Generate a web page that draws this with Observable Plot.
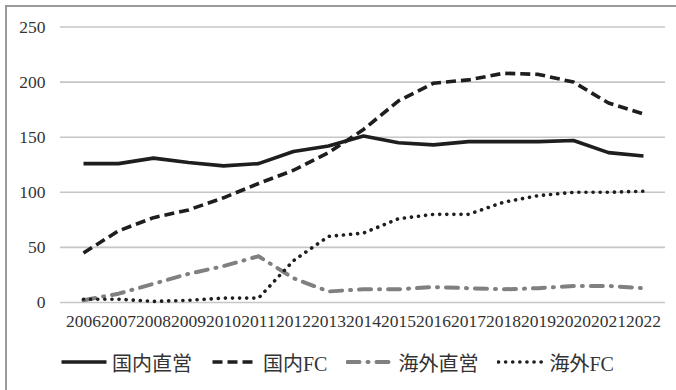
<!DOCTYPE html>
<html>
<head>
<meta charset="utf-8">
<script src="https://cdn.jsdelivr.net/npm/d3@7"></script>
<script src="https://cdn.jsdelivr.net/npm/@observablehq/plot@0.6"></script>
<style>
  html, body { margin: 0; padding: 0; background: #fff; }
  body { width: 676px; height: 390px; overflow: hidden; position: relative; }
  #frame {
    position: absolute; left: 5px; top: 5px; width: 700px; height: 420px;
    border-left: 2px solid #9a9a9a; border-top: 2px solid #9a9a9a; box-sizing: border-box;
  }
  #chart { position: absolute; left: 0; top: 0; }
  #chart svg text { font-family: "Liberation Serif", "Noto Sans CJK JP", serif !important; }
  #legend {
    position: absolute; left: 60px; top: 340px; height: 44px;
    display: flex; align-items: center; gap: 19px;
    font-family: "Liberation Serif", "Noto Sans CJK JP", serif; font-size: 20px; color: #333;
  }
  .item { display: flex; align-items: center; }
  .item span { margin-left: 4px; }
</style>
</head>
<body>
<div id="frame"></div>
<div id="chart"></div>
<div id="legend"></div>
<script>
// 店舗数の推移（2006〜2022年）
const years = [2006, 2007, 2008, 2009, 2010, 2011, 2012, 2013, 2014, 2015, 2016, 2017, 2018, 2019, 2020, 2021, 2022];
const domesticDirect = [126, 126, 131, 127, 124, 126, 137, 142, 151, 145, 143, 146, 146, 146, 147, 136, 133];
const domesticFC     = [45, 65, 77, 84, 95, 108, 120, 136, 157, 183, 199, 202, 208, 207, 200, 181, 171];
const overseasDirect = [2, 8, 17, 26, 33, 42, 22, 10, 12, 12, 14, 13, 12, 13, 15, 15, 13];
const overseasFC     = [3, 3, 1, 2, 4, 4, 38, 60, 63, 76, 80, 80, 91, 97, 100, 100, 101];
const yTicks = [0, 50, 100, 150, 200, 250];

const series = [
  {name: "国内直営", values: domesticDirect, color: "#1e1e1e", width: 3.6, dash: null, cap: "butt"},
  {name: "国内FC",   values: domesticFC,     color: "#1e1e1e", width: 3.6, dash: "10 5", cap: "butt"},
  {name: "海外直営", values: overseasDirect, color: "#808080", width: 4,   dash: "12 8 1 8", cap: "round"},
  {name: "海外FC",   values: overseasFC,     color: "#1e1e1e", width: 3.6, dash: "0.1 7", cap: "round"}
];

const marks = [
  Plot.ruleY(yTicks, {stroke: "#c6c6c6", strokeWidth: 1.6}),
  Plot.axisY(yTicks, {tickSize: 0, tickPadding: 15, fontSize: 17.5, fill: "#333"}),
  Plot.axisX(years, {tickSize: 0, tickPadding: 12, fontSize: 17.5, fill: "#333", tickFormat: d => String(d)})
];
for (const s of series) {
  const rows = years.map((y, i) => ({year: y, value: s.values[i]}));
  marks.push(Plot.line(rows, {
    x: "year", y: "value", stroke: s.color, strokeWidth: s.width,
    strokeDasharray: s.dash ?? undefined, strokeLinecap: s.cap, strokeLinejoin: "round"
  }));
}

const chart = Plot.plot({
  width: 676,
  height: 340,
  marginLeft: 60,
  marginRight: 11,
  marginTop: 26.5,
  marginBottom: 38,
  style: {background: "transparent"},
  x: {type: "point", domain: years, padding: 0.5, label: null},
  y: {domain: [0, 250], label: null},
  marks
});
document.getElementById("chart").appendChild(chart);

// 凡例
const legend = document.getElementById("legend");
for (const s of series) {
  const item = document.createElement("div");
  item.className = "item";
  const sw = 48;
  const svg = d3.create("svg").attr("width", sw).attr("height", 12);
  svg.append("line")
    .attr("x1", 1.5).attr("x2", sw - 1.5).attr("y1", 6).attr("y2", 6)
    .attr("stroke", s.color).attr("stroke-width", s.width)
    .attr("stroke-linecap", s.cap)
    .attr("stroke-dasharray", s.dash);
  item.appendChild(svg.node());
  const label = document.createElement("span");
  label.textContent = s.name;
  item.appendChild(label);
  legend.appendChild(item);
}
</script>
</body>
</html>
